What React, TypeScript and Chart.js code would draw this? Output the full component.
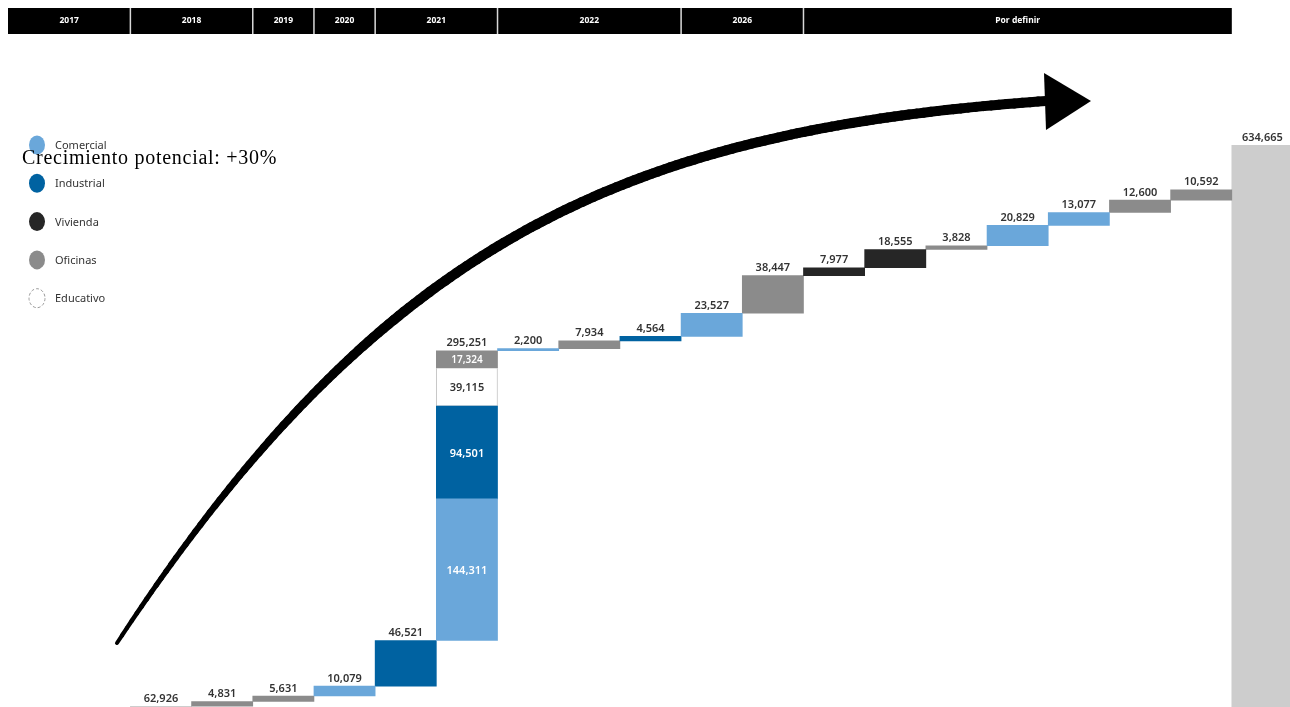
import React, { useEffect, useRef } from 'react';
import { Chart, registerables } from 'chart.js';

Chart.register(...registerables);

// Header (period groups) and how many columns each spans
const headerLabels = ['2017', '2018', '2019', '2020', '2021', '2022', '2026', 'Por definir'];
const headerSpans = [2, 2, 1, 1, 2, 3, 2, 7];

// Column categories
const categories = [
  '', '', 'Base', 'A1', 'A2', 'A3', 'A4', '2021', 'B1', 'B2', 'B3', 'B4', 'B5',
  'C1', 'C2', 'C3', 'C4', 'C5', 'C6', 'C7', 'Total',
];

// Segment values per column (waterfall increments)
const columnValues: number[][] = [
  [], [], [62926], [4831], [5631], [10079], [46521],
  [144311, 94501, 39115, 17324],
  [2200], [7934], [4564], [23527], [38447],
  [7977], [18555], [3828], [20829], [13077], [12600], [10592],
  [634665],
];

// Segment type per column
const columnTypes: string[][] = [
  [], [], ['Total'], ['Oficinas'], ['Oficinas'], ['Comercial'], ['Industrial'],
  ['Comercial', 'Industrial', 'Educativo', 'Oficinas'],
  ['Comercial'], ['Oficinas'], ['Industrial'], ['Comercial'], ['Oficinas'],
  ['Vivienda'], ['Vivienda'], ['Oficinas'], ['Comercial'], ['Comercial'], ['Oficinas'], ['Oficinas'],
  ['Total'],
];

const legendTypes = ['Comercial', 'Industrial', 'Vivienda', 'Oficinas', 'Educativo'];
const allTypes = ['Comercial', 'Industrial', 'Vivienda', 'Oficinas', 'Educativo', 'Total'];
const typeColors: Record<string, string> = {
  Comercial: '#6aa7da',
  Industrial: '#0062a1',
  Vivienda: '#262626',
  Oficinas: '#8b8b8b',
  Educativo: '#ffffff',
  Total: '#cdcdcd',
};
const innerLabelColors: Record<string, string> = {
  Comercial: '#ffffff',
  Industrial: '#ffffff',
  Educativo: '#333333',
  Oficinas: '#ffffff',
};

const titleText = 'Crecimiento potencial: +30%';
const yMax = 742000;

const fmt = (v: number) => v.toLocaleString('en-US');

// Build floating ranges
type Seg = { col: number; type: string; start: number; end: number; value: number };
function buildSegments(): Seg[] {
  const segs: Seg[] = [];
  let cum = 0;
  const last = columnValues.length - 1;
  columnValues.forEach((vals, i) => {
    vals.forEach((v, j) => {
      const type = columnTypes[i][j];
      if (i === last) {
        segs.push({ col: i, type, start: 0, end: v, value: v });
      } else {
        segs.push({ col: i, type, start: cum, end: cum + v, value: v });
        cum += v;
      }
    });
  });
  return segs;
}

export default function App() {
  const ref = useRef<HTMLCanvasElement | null>(null);

  useEffect(() => {
    if (!ref.current) return;
    const segs = buildSegments();

    const datasets = allTypes.map((t) => {
      const data: ([number, number] | null)[] = categories.map(() => null);
      segs.filter((s) => s.type === t).forEach((s) => {
        data[s.col] = [s.start, s.end];
      });
      return {
        label: t,
        data,
        backgroundColor: typeColors[t],
        borderColor: t === 'Educativo' ? '#c8c8c8' : typeColors[t],
        borderWidth: t === 'Educativo' ? 1 : 0,
        borderSkipped: false,
        grouped: false,
        barPercentage: 1,
        categoryPercentage: 1,
      } as any;
    });

    const decor = {
      id: 'decor',
      afterDatasetsDraw(chart: any) {
        const ctx = chart.ctx as CanvasRenderingContext2D;
        const xs = chart.scales.x;
        const ys = chart.scales.y;
        const colW = (xs.right - xs.left) / categories.length;
        const P = (v: number) => v - 8; // page -> canvas

        ctx.save();

        // Header band
        let c = 0;
        const hTop = 0;
        const hH = 26;
        headerLabels.forEach((lab, k) => {
          const x0 = xs.left + c * colW;
          const x1 = xs.left + (c + headerSpans[k]) * colW;
          ctx.fillStyle = '#000000';
          ctx.fillRect(x0, hTop, x1 - x0, hH);
          ctx.fillStyle = '#ffffff';
          ctx.font = 'bold 8.5px "Noto Sans"';
          ctx.textAlign = 'center';
          ctx.textBaseline = 'middle';
          ctx.fillText(lab, (x0 + x1) / 2, hTop + hH / 2);
          if (k > 0) {
            ctx.fillStyle = '#d8d8d8';
            ctx.fillRect(x0 - 0.75, hTop, 1.5, hH);
          }
          c += headerSpans[k];
        });

        // Value labels
        ctx.textAlign = 'center';
        const byCol: Record<number, Seg[]> = {};
        segs.forEach((s) => {
          (byCol[s.col] = byCol[s.col] || []).push(s);
        });
        Object.keys(byCol).forEach((k) => {
          const list = byCol[+k];
          const xc = xs.getPixelForValue(+k);
          const top = Math.max(...list.map((s) => s.end));
          const total = list.reduce((a, s) => a + s.value, 0);
          ctx.fillStyle = '#333333';
          ctx.font = '600 11px "Noto Sans"';
          ctx.textBaseline = 'bottom';
          ctx.fillText(fmt(total), xc, ys.getPixelForValue(top) - 2);
          if (list.length > 1) {
            list.forEach((s) => {
              const yc = (ys.getPixelForValue(s.start) + ys.getPixelForValue(s.end)) / 2;
              ctx.fillStyle = innerLabelColors[s.type] || '#333';
              ctx.font = s.type === 'Oficinas' ? '600 10px "Noto Sans"' : '600 11px "Noto Sans"';
              ctx.textBaseline = 'middle';
              ctx.fillText(fmt(s.value), xc, yc + 1);
            });
          }
        });

        // Legend
        legendTypes.forEach((t, i) => {
          const cy = P(145 + i * 38.3);
          const cx = P(37);
          ctx.beginPath();
          ctx.ellipse(cx, cy, 8, 9.5, 0, 0, Math.PI * 2);
          if (t === 'Educativo') {
            ctx.fillStyle = '#ffffff';
            ctx.fill();
            ctx.setLineDash([3, 2]);
            ctx.strokeStyle = '#9a9a9a';
            ctx.lineWidth = 1;
            ctx.stroke();
            ctx.setLineDash([]);
          } else {
            ctx.fillStyle = typeColors[t];
            ctx.fill();
          }
          ctx.fillStyle = '#333333';
          ctx.font = '11px "Noto Sans"';
          ctx.textAlign = 'left';
          ctx.textBaseline = 'middle';
          ctx.fillText(t, P(55), cy + 1);
        });

        // Curved arrow
        const p0 = [117, 643], p1 = [380, 243], p2 = [620, 131], p3 = [1046, 101];
        const bez = (t: number) => {
          const a = (1 - t) ** 3, b = 3 * (1 - t) ** 2 * t, cc = 3 * (1 - t) * t * t, d = t ** 3;
          return [
            a * p0[0] + b * p1[0] + cc * p2[0] + d * p3[0],
            a * p0[1] + b * p1[1] + cc * p2[1] + d * p3[1],
          ];
        };
        ctx.strokeStyle = '#000000';
        ctx.lineCap = 'round';
        const N = 160;
        for (let i = 0; i < N; i++) {
          const a = bez(i / N);
          const b = bez((i + 1) / N);
          const t = i / N;
          ctx.lineWidth = 4 + 6 * Math.min(1, Math.pow(t / 0.35, 0.8));
          ctx.beginPath();
          ctx.moveTo(P(a[0]), P(a[1]));
          ctx.lineTo(P(b[0]), P(b[1]));
          ctx.stroke();
        }
        ctx.fillStyle = '#000000';
        ctx.beginPath();
        ctx.moveTo(P(1044), P(73));
        ctx.lineTo(P(1091), P(101));
        ctx.lineTo(P(1046), P(130));
        ctx.closePath();
        ctx.fill();

        // Title text (serif)
        ctx.fillStyle = '#000000';
        ctx.font = '20px "Liberation Serif"';
        ctx.textAlign = 'left';
        ctx.textBaseline = 'alphabetic';
        const w = ctx.measureText(titleText).width;
        const target = 255;
        (ctx as any).letterSpacing = ((target - w) / titleText.length).toFixed(2) + 'px';
        ctx.fillText(titleText, P(22), P(164));
        (ctx as any).letterSpacing = '0px';

        ctx.restore();
      },
    };

    const chart = new Chart(ref.current, {
      type: 'bar',
      data: { labels: categories, datasets },
      options: {
        responsive: false,
        animation: false,
        layout: { padding: { top: 32, left: 0, right: 0, bottom: 0 } },
        plugins: { legend: { display: false }, tooltip: { enabled: false }, title: { display: false } },
        scales: {
          x: { display: false, offset: true },
          y: { display: false, min: 0, max: yMax },
        },
      } as any,
      plugins: [decor],
    });
    return () => chart.destroy();
  }, []);

  return (
    <div style={{ position: 'fixed', left: 8, top: 8, right: 0, bottom: 0, overflow: 'hidden', background: '#ffffff' }}>
      <canvas ref={ref} width={1285} height={760} style={{ display: 'block' }} />
    </div>
  );
}
